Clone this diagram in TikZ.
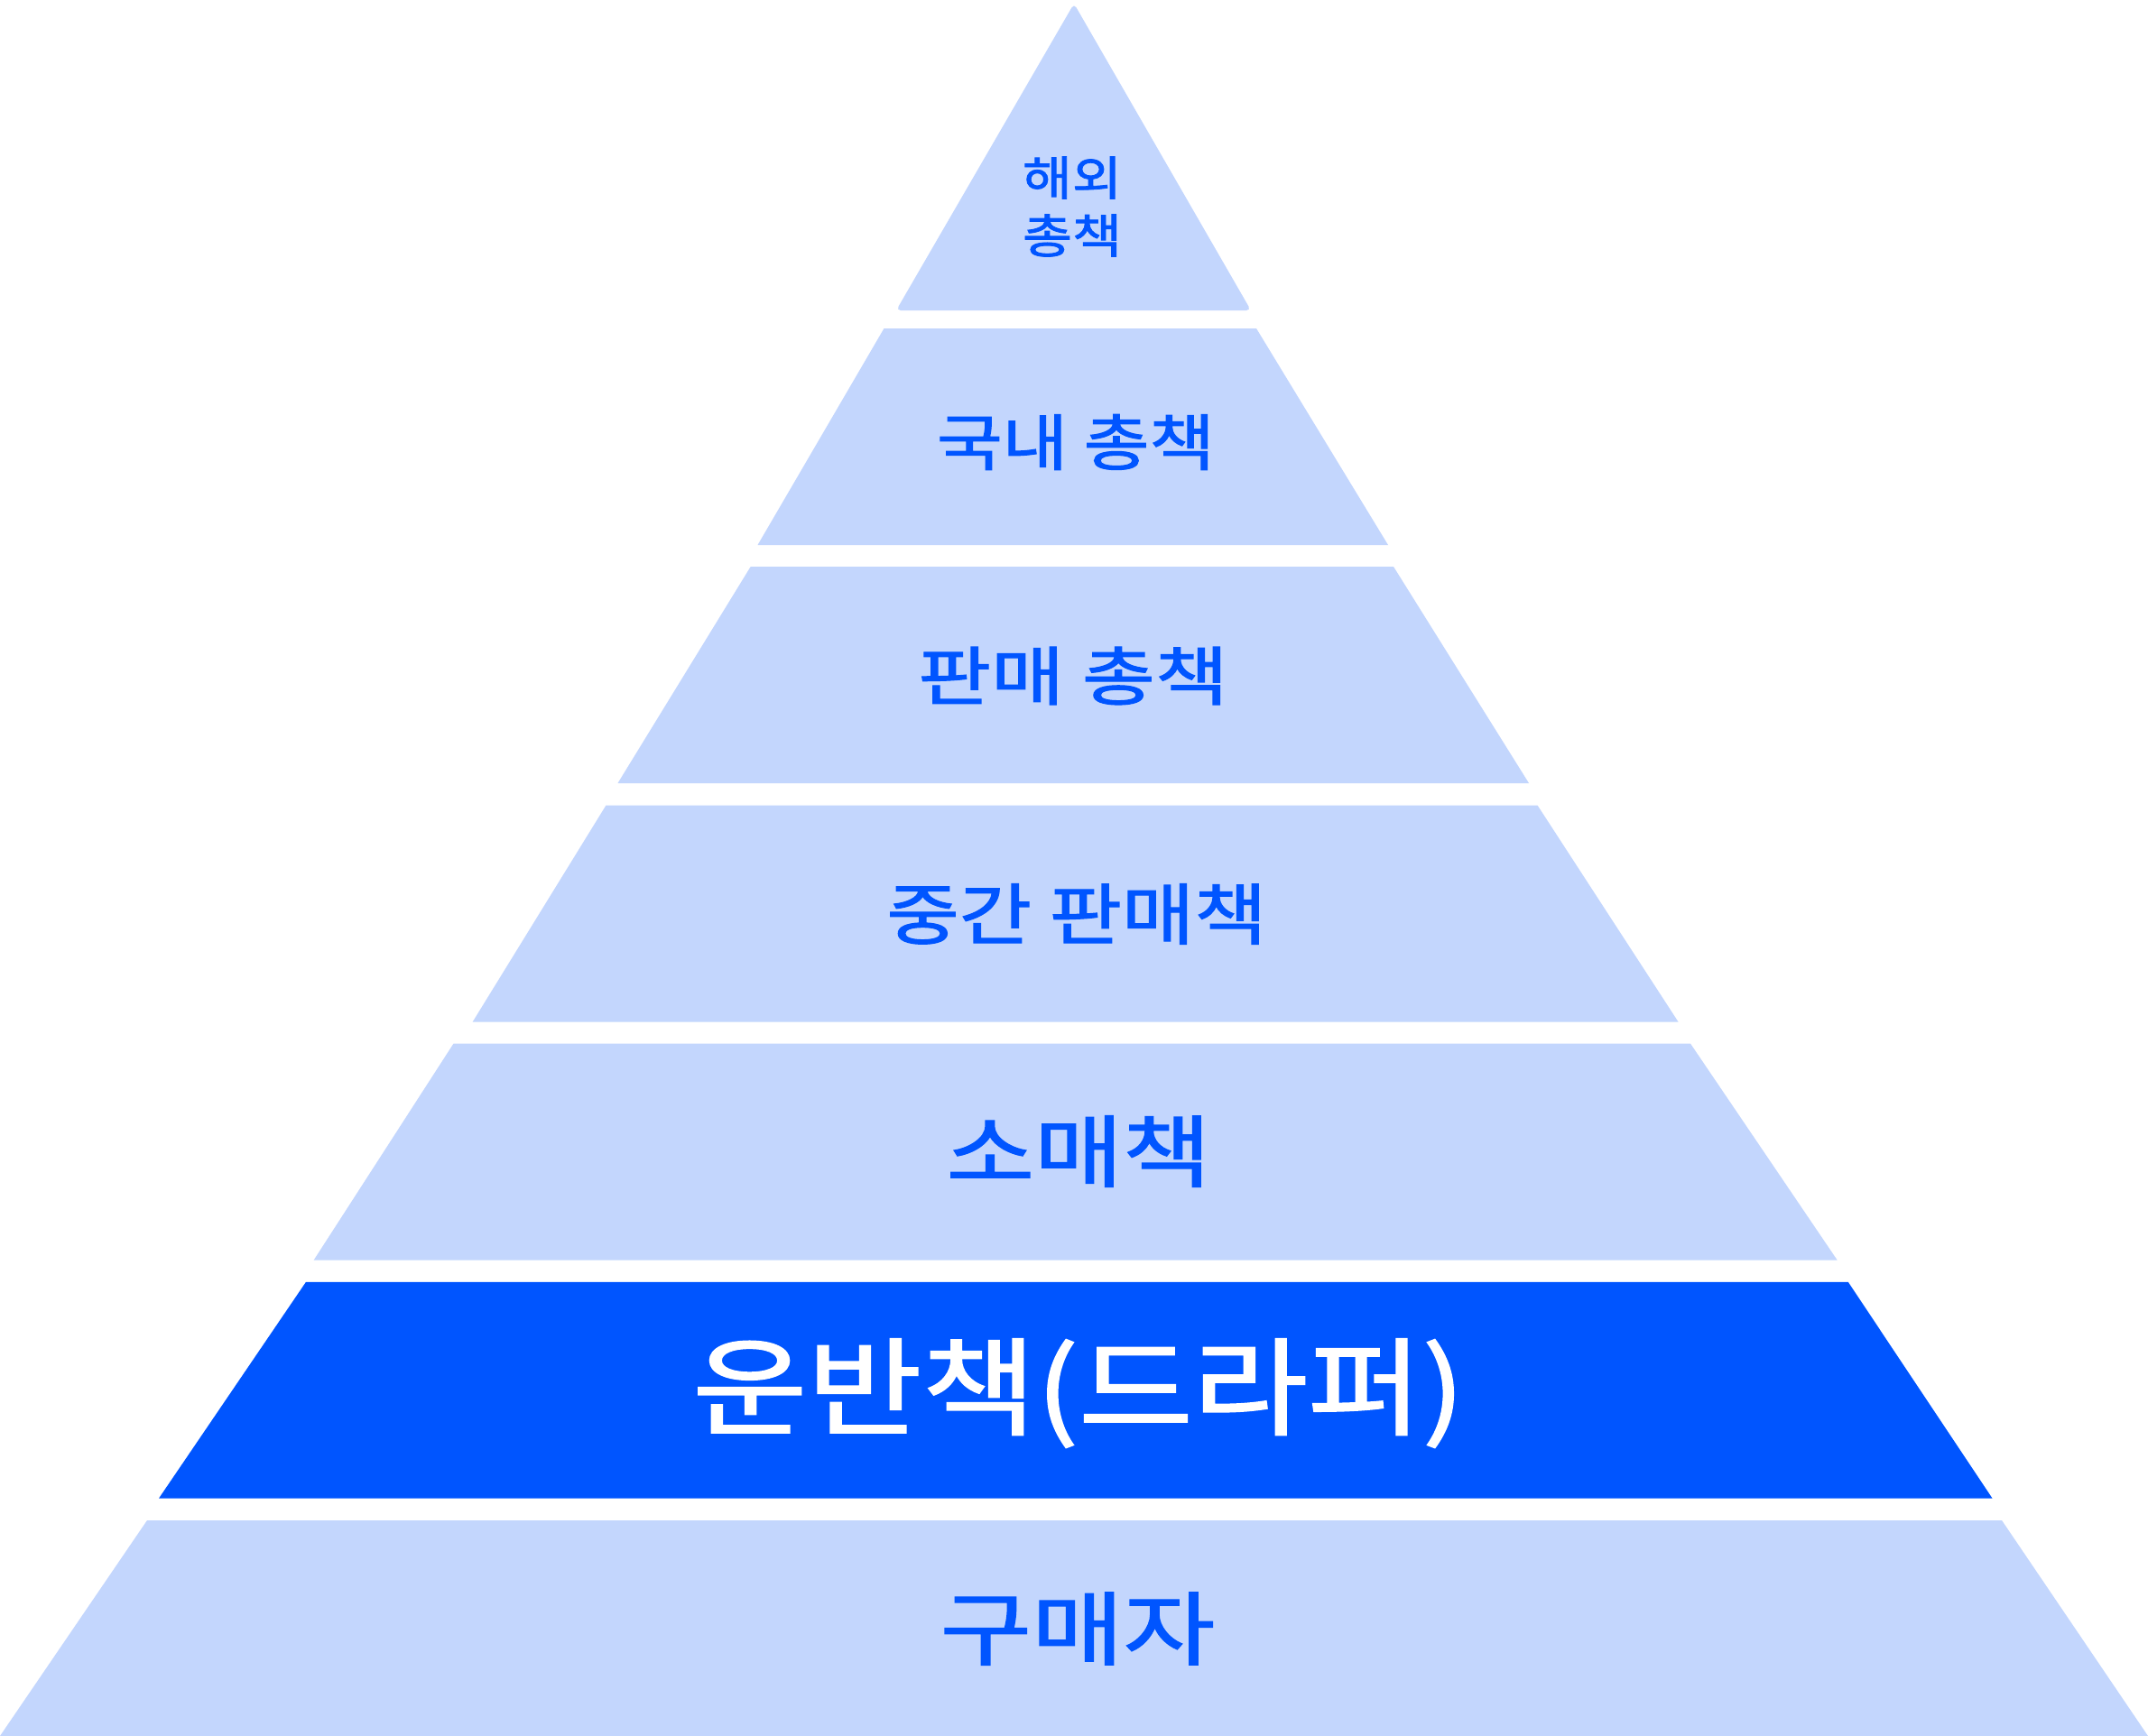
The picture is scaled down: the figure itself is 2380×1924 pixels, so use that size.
\documentclass[tikz,border=0pt]{standalone}
\usepackage{fontspec}
\usepackage{graphicx}
\newfontfamily\kr[FakeBold=1.5]{Noto Sans CJK KR}
\definecolor{pyrlight}{RGB}{195,214,253}
\definecolor{pyrdark}{RGB}{0,85,255}
\tikzset{
  layer/.style={fill=pyrlight},
  hilayer/.style={fill=pyrdark},
  lbl/.style={text=pyrdark, inner sep=0pt, anchor=center},
  hilbl/.style={text=white, inner sep=0pt, anchor=center}
}
\begin{document}
\begin{tikzpicture}[x=1pt,y=-1pt]
\useasboundingbox[fill=white] (0,0) rectangle (2380,1924);
% layer 1 (apex triangle)
\fill[layer, rounded corners=5pt] (1190,4) -- (1386,344) -- (993,344) -- cycle;
% layer 2
\fill[layer] (979.5,364) -- (1392,364) -- (1538,604) -- (839.5,604) -- cycle;
% layer 3
\fill[layer] (831.7,628) -- (1544,628) -- (1694,868) -- (684.5,868) -- cycle;
% layer 4
\fill[layer] (671.5,892.5) -- (1703.5,892.5) -- (1859.5,1132.5) -- (523.7,1132.5) -- cycle;
% layer 5
\fill[layer] (502.5,1156.6) -- (1873,1156.6) -- (2035.6,1396.5) -- (347.7,1396.5) -- cycle;
% layer 6 (highlighted)
\fill[hilayer] (339,1420.8) -- (2047.7,1420.8) -- (2207.5,1660.6) -- (176,1660.6) -- cycle;
% layer 7
\fill[layer] (163,1685) -- (2218,1685) -- (2380,1924) -- (0,1924) -- cycle;

\node[lbl] (t1a) at (1188,197) {\kr\fontsize{52}{52}\selectfont\scalebox{1.15}[1]{해외}};
\node[lbl] (t1b) at (1188,261) {\kr\fontsize{52}{52}\selectfont\scalebox{1.15}[1]{총책}};
\node[lbl] (t2) at (1192,490) {\kr\fontsize{68}{68}\selectfont\scalebox{1.16}[1]{국내 총책}};
\node[lbl] (t3) at (1189,749) {\kr\fontsize{71}{71}\selectfont\scalebox{1.24}[1]{판매 총책}};
\node[lbl] (t4) at (1193,1013) {\kr\fontsize{74}{74}\selectfont\scalebox{1.18}[1]{중간 판매책}};
\node[lbl] (t5) at (1195,1276) {\kr\fontsize{87}{87}\selectfont\scalebox{1.22}[1]{소매책}};
\node[hilbl] (t6) at (1195,1544) {\kr\fontsize{118}{118}\selectfont\scalebox{1.17}[1]{운반책(드라퍼)}};
\node[lbl] (t7) at (1194,1805) {\kr\fontsize{89}{89}\selectfont\scalebox{1.24}[1]{구매자}};
\end{tikzpicture}
\end{document}
